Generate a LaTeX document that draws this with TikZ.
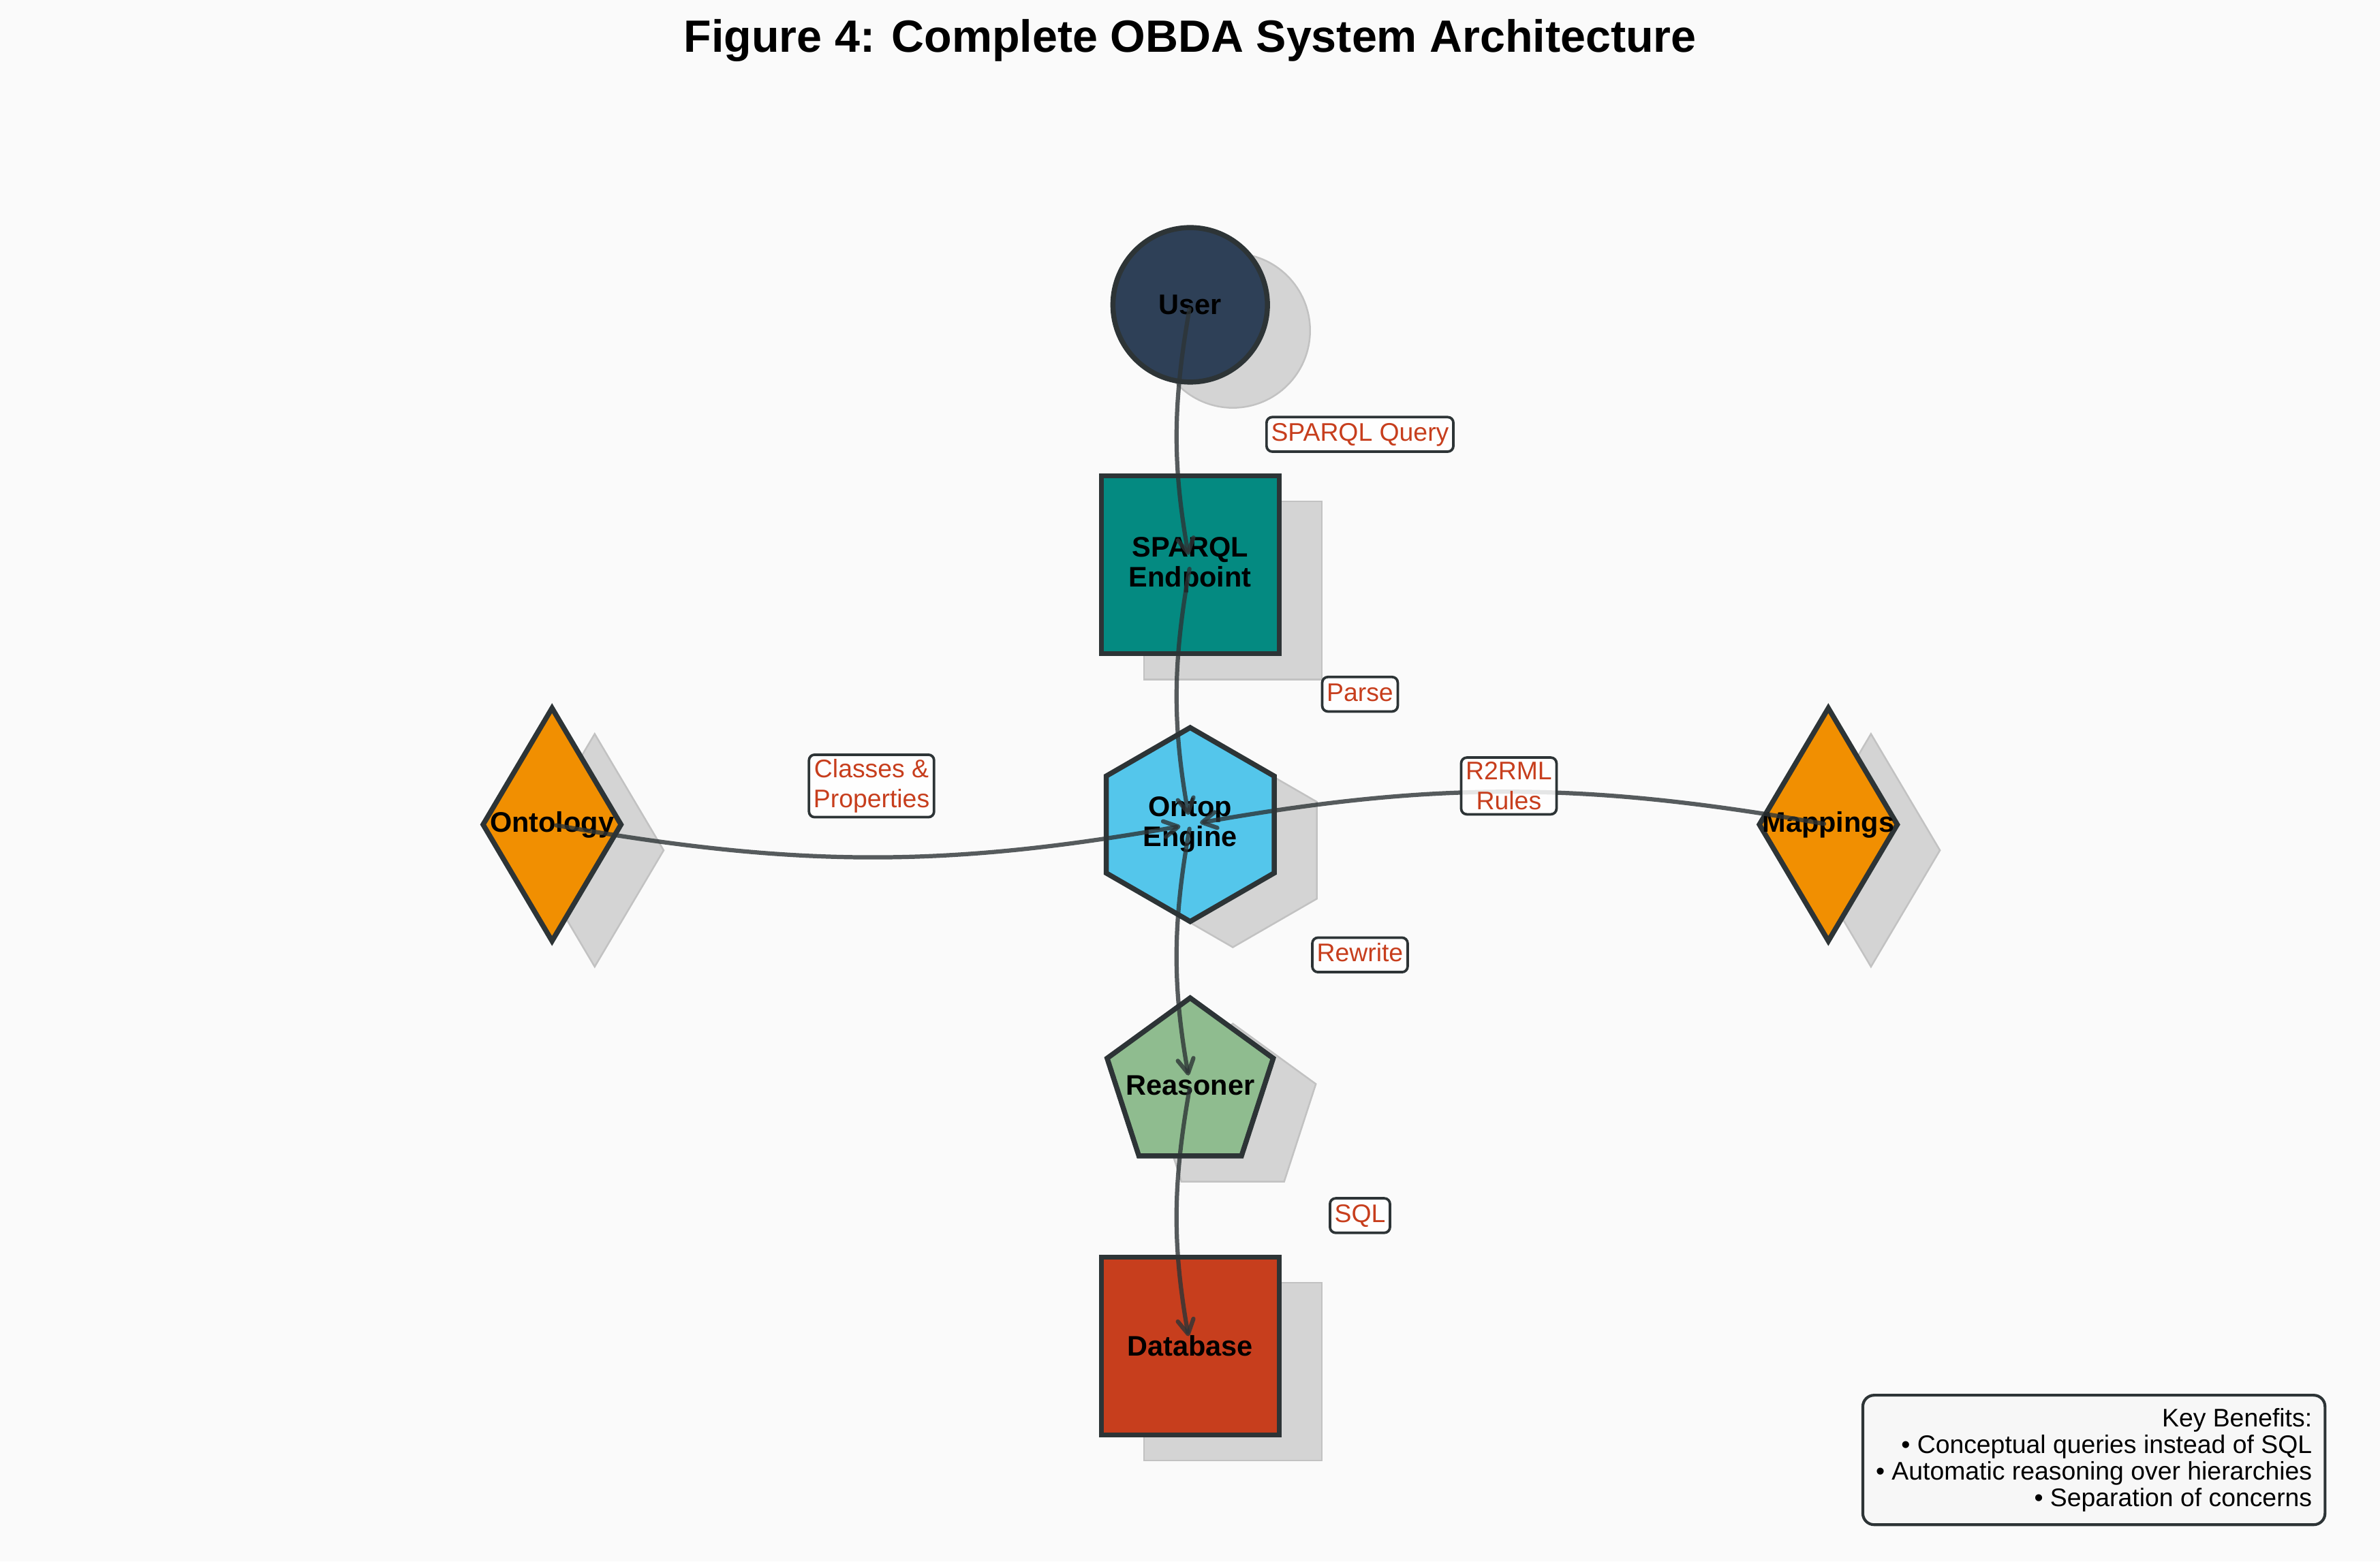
\documentclass[tikz,border=0pt]{standalone}
\usepackage{fontspec}
\setmainfont{Liberation Sans}
\usetikzlibrary{shapes.geometric,shadows,arrows.meta}
\definecolor{bgcol}{HTML}{FAFAFA}
\definecolor{edgecol}{HTML}{2D3436}
\definecolor{usercol}{HTML}{2E4057}
\definecolor{endpointcol}{HTML}{048A81}
\definecolor{enginecol}{HTML}{54C6EB}
\definecolor{reasonercol}{HTML}{8FBC8F}
\definecolor{sourcecol}{HTML}{F18F01}
\definecolor{dbcol}{HTML}{C73E1D}
\begin{document}
\begin{tikzpicture}[
  comp/.style={draw=edgecol,line width=1.8pt,inner sep=0pt,
    general shadow={shadow xshift=0.53cm,shadow yshift=-0.32cm,fill=black!17,draw=black!24,line width=0.6pt}},
  every label/.style={font=\fontsize{10}{10.6}\selectfont\bfseries,align=center,text=black,inner sep=0pt},
  flow/.style={draw=edgecol,draw opacity=0.8,line width=1.5pt,line cap=round,shorten <=1.5pt,shorten >=3.5pt,
    -{Straight Barb[length=5pt,width=5.6pt,round]}},
  flowlabel/.style={draw=edgecol,line width=0.9pt,fill=white,fill opacity=0.85,text opacity=1,rounded corners=2pt,
    inner sep=1.6pt,text=dbcol,font=\fontsize{9}{10.5}\selectfont,align=center},
  flowlabelone/.style={flowlabel,text height=6.9pt,text depth=2.1pt}]
  \fill[bgcol] (0,0) rectangle (29.576,19.409);
  \useasboundingbox (0,0) rectangle (29.576,19.409);
  \node[anchor=base,font=\fontsize{16}{19}\selectfont\bfseries] (title) at (14.79,18.76) {Figure 4: Complete OBDA System Architecture};

  % components
  \node[comp,circle,fill=usercol,minimum size=1.92cm,label={center:User}] (user) at (14.79,15.62) {};
  \node[comp,rectangle,fill=endpointcol,minimum size=2.21cm,label={center:SPARQL\\Endpoint}] (endpoint) at (14.79,12.39) {};
  \node[comp,regular polygon,regular polygon sides=6,shape border rotate=30,fill=enginecol,minimum size=2.41cm,
    label={center:Ontop\\Engine}] (engine) at (14.79,9.16) {};
  \node[comp,regular polygon,regular polygon sides=5,fill=reasonercol,minimum size=2.17cm,
    label={center:Reasoner}] (reasoner) at (14.79,5.92) {};
  \node[comp,rectangle,fill=dbcol,minimum size=2.21cm,label={center:Database}] (database) at (14.79,2.68) {};
  \node[comp,diamond,fill=sourcecol,minimum width=1.74cm,minimum height=2.92cm,label={center:Ontology}] (ontology) at (6.86,9.16) {};
  \node[comp,diamond,fill=sourcecol,minimum width=1.74cm,minimum height=2.92cm,label={center:Mappings}] (mappings) at (22.72,9.16) {};

  % data flow
  \draw[flow] (user.center) to[bend right=10] (endpoint.center);
  \draw[flow] (endpoint.center) to[bend right=10] (engine.center);
  \draw[flow] (engine.center) to[bend right=10] (reasoner.center);
  \draw[flow] (reasoner.center) to[bend right=10] (database.center);
  \draw[flow] (ontology.center) to[bend right=10] (engine.center);
  \draw[flow] (mappings.center) to[bend right=10] (engine.center);

  \node[flowlabelone] (lquery) at (16.90,14.01) {SPARQL Query};
  \node[flowlabelone] (lparse) at (16.90,10.78) {Parse};
  \node[flowlabelone] (lrewrite) at (16.90,7.54) {Rewrite};
  \node[flowlabelone] (lsql) at (16.90,4.30) {SQL};
  \node[flowlabel] (lclasses) at (10.83,9.64) {Classes \&\\Properties};
  \node[flowlabel] (lrules) at (18.75,9.64) {R2RML\\Rules};

  \node[anchor=south east,draw=edgecol,line width=1pt,fill=black!3,rounded corners=4pt,inner sep=4.6pt,
    align=right,font=\fontsize{9}{9.4}\selectfont] (benefits) at (28.91,0.44)
    {Key Benefits:\\• Conceptual queries instead of SQL\\• Automatic reasoning over hierarchies\\• Separation of concerns};
\end{tikzpicture}
\end{document}
